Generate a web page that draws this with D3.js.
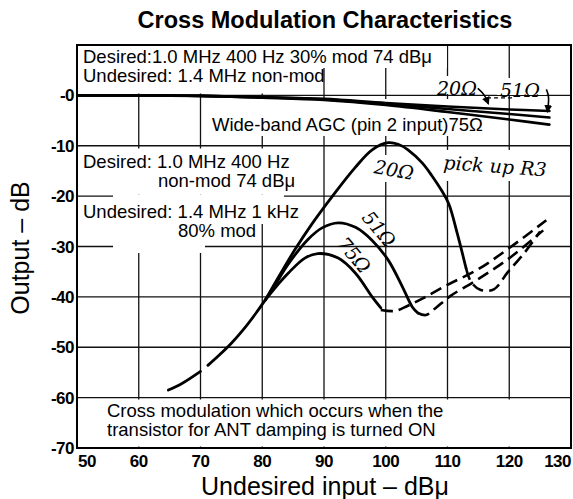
<!DOCTYPE html>
<html><head><meta charset="utf-8">
<script src="https://cdn.jsdelivr.net/npm/d3@7"></script>
<style>body{margin:0;background:#fff}svg{display:block}</style>
</head><body><svg id="c" width="573" height="499"></svg>
<script>
// ---- data ----
const xTicks = [50,60,70,80,90,100,110,120,130];
const xTickLabels = ["50","60","70","80","90","100","110","120","130"];
const yTicks = [0,-10,-20,-30,-40,-50,-60,-70];
const yTickLabels = ["-0","-10","-20","-30","-40","-50","-60","-70"];

// common low part (two pieces, small gap near 70)
const lowPiece1 = [[64.8,-58.5],[67,-57.2],[70,-54.8]];
const lowPiece2 = [[71.2,-53.6],[73,-51.6],[75,-49.2],[77,-46.4],[79,-43.2],[80.5,-40.6]];

// pick-up R3 curves (solid)
const r20 = [[80.5,-40.6],[83,-35.3],[85.3,-30.6],[88,-25.6],[91.5,-19.8],[95,-14.4],[97.8,-10.8],[100.4,-9.4],[102,-9.7],[103.6,-10.8],[105.9,-13.4],[107.5,-16],[109,-18.8],[110.2,-21.5],[111.6,-27.5],[113,-34.3]];
const r51 = [[80.5,-40.6],[82.5,-36.8],[84.2,-33.5],[87.4,-28.6],[89.7,-26.3],[92.3,-25.3],[95.1,-26.2],[97.8,-28.8],[100.4,-32.7],[102.7,-38],[104.3,-42],[105.2,-43.2]];
const r75 = [[80.5,-40.6],[82.5,-37.6],[84.2,-35.3],[86.9,-32.3],[89,-31.4],[92.3,-32.3],[95.1,-35.3],[97.8,-40],[99.2,-42.2]];

// dashed continuations (ANT damping ON)
const d75 = [[99.2,-42.6],[101.5,-42.8],[103.5,-41.8],[106,-40.3],[110,-37.6],[115,-34.5],[120,-30.3],[126,-24.8]];
const d51 = [[105.2,-43.2],[106.5,-43.6],[108,-42.3],[110.5,-39.8],[114.8,-36.6],[119.7,-32.6],[125.5,-26.8]];
const d20 = [[113,-34.3],[113.8,-37],[115.3,-38.6],[117.5,-38.5],[119.7,-35.2],[122.5,-31.2],[125,-27]];

// wide-band AGC (near 0 dB)
const w20 = [[50,0],[60,0],[70,-0.1],[80,-0.35],[90,-0.7],[100,-1.5],[110,-2.2],[120,-2.8],[126.5,-3.1]];
const w51 = [[50,0],[60,0],[70,-0.1],[80,-0.4],[90,-0.8],[100,-1.7],[110,-2.7],[120,-3.7],[126.5,-4.4]];
const w75 = [[50,0],[60,0],[70,-0.1],[80,-0.45],[90,-0.9],[100,-1.9],[110,-3.3],[120,-4.8],[126.5,-5.8]];

// ---- drawing ----
const svg = d3.select("#c");
const x = d3.scaleLinear().domain([50,130]).range([77,571]);
const y = d3.scaleLinear().domain([10,-70]).range([45,448]);
const SANS = "'Liberation Sans', Arial, Helvetica, sans-serif";
const SERIF = "'DejaVu Serif', 'Liberation Serif', serif";

svg.append("rect").attr("width",573).attr("height",499).attr("fill","#fff");

svg.append("defs").append("clipPath").attr("id","clip")
  .append("rect").attr("x",x(50)).attr("y",y(10)).attr("width",x(130)-x(50)).attr("height",y(-70)-y(10));

// grid
const grid = svg.append("g").attr("stroke","#111").attr("stroke-width",1.3);
xTicks.slice(1,-1).forEach(v=>grid.append("line").attr("x1",x(v)).attr("x2",x(v)).attr("y1",y(10)).attr("y2",y(-70)));
yTicks.slice(0,-1).forEach(v=>grid.append("line").attr("x1",x(50)).attr("x2",x(130)).attr("y1",y(v)).attr("y2",y(v)));

// white masks behind annotation text (hide grid like the original)
const masks = [
  [x(50)+1, 46, 447, 68],
  [x(50)+1, 68, 321, 93.5],
  [205, 99, 493, 136],
  [x(50)+1, 148.5, 300, 194.5],
  [113, 194.5, 284, 200],
  [x(50)+1, 200, 304, 224],
  [113, 224, 260, 244],
  [113, 244, 205, 253],
  [440, 150, 551, 181],
  [373, 155, 416, 182],
  [x(50)+1, 399.5, x(130)-1, 446.5],
  [434, 76, 480, 94],
  [497, 78, 546, 95]
];
svg.append("g").selectAll("rect").data(masks).join("rect")
  .attr("x",d=>d[0]).attr("y",d=>d[1]).attr("width",d=>d[2]-d[0]).attr("height",d=>d[3]-d[1]).attr("fill","#fff");

// frame
svg.append("rect").attr("x",x(50)).attr("y",y(10)).attr("width",x(130)-x(50)).attr("height",y(-70)-y(10))
  .attr("fill","none").attr("stroke","#000").attr("stroke-width",2);

// curves
const line = d3.line().x(d=>x(d[0])).y(d=>y(d[1])).curve(d3.curveCatmullRom.alpha(0.5));
const plot = svg.append("g").attr("clip-path","url(#clip)").attr("fill","none").attr("stroke","#000").attr("stroke-linecap","round");
[w20,w51,w75].forEach(s=>plot.append("path").attr("d",line(s)).attr("stroke-width",2.6));
[lowPiece1,lowPiece2,r20,r51,r75].forEach(s=>plot.append("path").attr("d",line(s)).attr("stroke-width",2.8));
[d75,d51,d20].forEach(s=>plot.append("path").attr("d",line(s)).attr("stroke-width",2.6).attr("stroke-linecap","butt").attr("stroke-dasharray","12,6"));

// small arrows / dashed connector at the top labels
const arrows = [[[114.9,1.4],[116.0,0.2],[116.6,-1.6]],[[126.0,1.2],[126.5,-0.2],[126.2,-3.2]]];
svg.append("defs").append("marker").attr("id","ah").attr("viewBox","0 0 10 10").attr("refX",8).attr("refY",5)
  .attr("markerWidth",5).attr("markerHeight",5).attr("orient","auto")
  .append("path").attr("d","M0,0L10,5L0,10z").attr("fill","#000");
const aline = d3.line().x(d=>x(d[0])).y(d=>y(d[1])).curve(d3.curveBasis);
arrows.forEach(a=>svg.append("path").attr("d",aline(a)).attr("fill","none").attr("stroke","#000").attr("stroke-width",1.6).attr("marker-end","url(#ah)"));
svg.append("line").attr("x1",x(116.4)).attr("x2",x(120.6)).attr("y1",y(-0.5)).attr("y2",y(-0.5))
  .attr("stroke","#000").attr("stroke-width",1.2).attr("stroke-dasharray","4,3");

// axis tick labels
const tl = svg.append("g").attr("font-family",SANS).attr("font-weight","bold").attr("font-size",17).attr("fill","#000").attr("letter-spacing","-0.5");
xTicks.forEach((v,i)=>{
  const last = i===xTicks.length-1;
  tl.append("text").attr("x", i===0 ? x(v)+1 : x(v))
    .attr("y",467).attr("text-anchor", i===0 ? "start" : (last ? "end" : "middle")).text(xTickLabels[i]);
});
yTicks.forEach((v,i)=>{
  tl.append("text").attr("x",74).attr("y",y(v)+6).attr("text-anchor","end").text(yTickLabels[i]);
});

// titles
svg.append("text").attr("x",325).attr("y",28).attr("text-anchor","middle").attr("font-family",SANS)
  .attr("font-weight","bold").attr("font-size",23.5).text("Cross Modulation Characteristics");
svg.append("text").attr("transform","translate(29,248) rotate(-90)").attr("text-anchor","middle")
  .attr("font-family",SANS).attr("font-size",25).text("Output – dB");
svg.append("text").attr("x",325).attr("y",495).attr("text-anchor","middle")
  .attr("font-family",SANS).attr("font-size",25).text("Undesired input – dBμ");

// annotations
const ann = svg.append("g").attr("font-family",SANS).attr("font-size",18.5).attr("fill","#000");
const notes = [
  [83,63,"Desired:1.0 MHz 400 Hz 30% mod 74 dBμ"],
  [83,82,"Undesired: 1.4 MHz non-mod"],
  [212,131,"Wide-band AGC (pin 2 input)75Ω"],
  [83,168,"Desired: 1.0 MHz 400 Hz"],
  [158,187,"non-mod 74 dBμ"],
  [83,218,"Undesired: 1.4 MHz 1 kHz"],
  [178,237,"80% mod"],
  [107,417,"Cross modulation which occurs when the"],
  [107,436,"transistor for ANT damping is turned ON"]
];
notes.forEach(n=>ann.append("text").attr("x",n[0]).attr("y",n[1]).text(n[2]));

// italic serif curve labels
const lab = svg.append("g").attr("font-family",SERIF).attr("font-style","italic").attr("font-size",19).attr("fill","#000");
lab.append("text").attr("x",437).attr("y",95).text("20Ω");
lab.append("text").attr("x",500).attr("y",97).text("51Ω");
lab.append("text").attr("transform","translate(394,170) rotate(10)").attr("text-anchor","middle").attr("dy","0.35em").text("20Ω");
lab.append("text").attr("transform","translate(495,166) rotate(4)").attr("text-anchor","middle").attr("dy","0.35em").text("pick up R3");
lab.append("text").attr("transform","translate(379,229) rotate(50)").attr("text-anchor","middle").attr("dy","0.35em").text("51Ω");
lab.append("text").attr("transform","translate(354,255) rotate(50)").attr("text-anchor","middle").attr("dy","0.35em").text("75Ω");
</script></body></html>
